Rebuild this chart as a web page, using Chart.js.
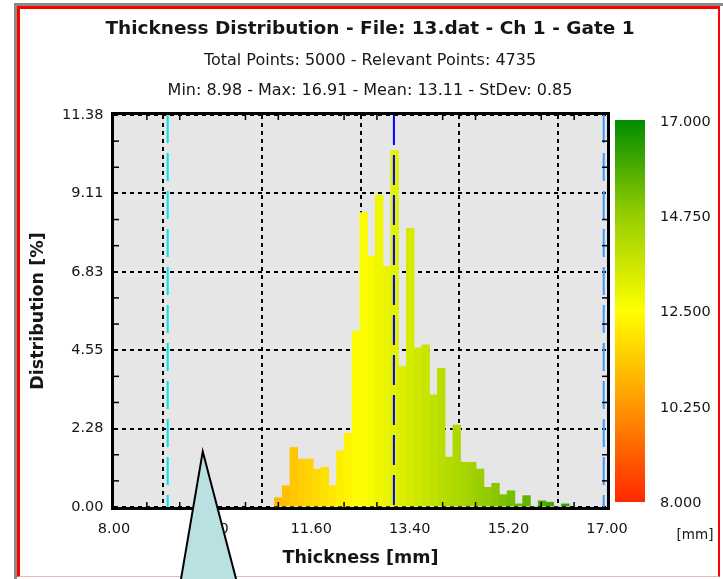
<!doctype html>
<html lang="en">
<head>
<meta charset="UTF-8">
<title>Thickness Distribution</title>
<script src="https://cdn.jsdelivr.net/npm/chart.js@4.4.1/dist/chart.umd.min.js"></script>
<style>
  html, body { margin: 0; padding: 0; background: #fff; }
  body { width: 723px; height: 579px; position: relative; overflow: hidden; }
  #outer { position: absolute; left: 14px; top: 3px; right: 0; bottom: -10px; border-left: 3px solid #8b8b83; border-top: 3px solid #8b8b83; }
  #frame { position: absolute; left: 17px; top: 6px; right: 3px; bottom: 2px; border: 3px solid #ff0000; border-right-width: 2px; border-bottom: 1px solid #f6b4b4; }
  canvas { position: absolute; left: 0; top: 0; }
</style>
</head>
<body>
<div id="outer"></div>
<div id="frame"></div>
<canvas id="chart" width="723" height="579"></canvas>
<script>
// histogram bins (centre of each bin, mm) and their share in %
const binCenters = [11.000, 11.142, 11.283, 11.425, 11.566, 11.708, 11.850, 11.991, 12.133, 12.274,
  12.416, 12.558, 12.699, 12.841, 12.982, 13.124, 13.266, 13.407, 13.549, 13.690,
  13.832, 13.974, 14.115, 14.257, 14.398, 14.540, 14.682, 14.823, 14.965, 15.106,
  15.248, 15.390, 15.531, 15.673, 15.814, 15.956, 16.098, 16.239];
const distribution = [0.27, 0.62, 1.73, 1.39, 1.39, 1.10, 1.15, 0.62, 1.63, 2.14,
  5.10, 8.55, 7.29, 9.06, 6.98, 10.35, 4.08, 8.09, 4.62, 4.71,
  3.26, 4.03, 1.45, 2.38, 1.30, 1.30, 1.10, 0.57, 0.69, 0.36,
  0.47, 0.09, 0.33, 0, 0.18, 0.14, 0, 0.09];

const xTicks = [8.0, 9.8, 11.6, 13.4, 15.2, 17.0];
const xTickLabels = ['8.00', '9.80', '11.60', '13.40', '15.20', '17.00'];
const yTicks = [0, 2.277, 4.554, 6.831, 9.108, 11.385];
const yTickLabels = ['0.00', '2.28', '4.55', '6.83', '9.11', '11.38'];
const colorTicks = [8, 10.25, 12.5, 14.75, 17];
const colorTickLabels = ['8.000', '10.250', '12.500', '14.750', '17.000'];

const gateStart = 8.98;
const meanValue = 13.11;
const gateEnd = 16.94;

const titleText = 'Thickness Distribution - File: 13.dat - Ch 1 - Gate 1';
const subtitleText = ['Total Points: 5000 - Relevant Points: 4735', 'Min: 8.98 - Max: 16.91 - Mean: 13.11 - StDev: 0.85'];

// colour map red -> yellow -> green
const colorStops = [[8, [255, 40, 0]], [10.25, [255, 150, 0]], [12.5, [255, 255, 0]], [14.75, [150, 205, 0]], [17, [0, 140, 0]]];
function rgb(c) { return `rgb(${c[0]},${c[1]},${c[2]})`; }
function colorAt(v) {
	for (let i = 0; i < colorStops.length - 1; i++) {
		const [v0, c0] = colorStops[i], [v1, c1] = colorStops[i + 1];
		if (v <= v1) {
			const t = Math.max(0, (v - v0) / (v1 - v0));
			return rgb(c0.map((c, k) => Math.round(c + (c1[k] - c) * t)));
		}
	}
	return rgb(colorStops[colorStops.length - 1][1]);
}

const FONT = "'DejaVu Sans', sans-serif";
const TEXT = '#161616';
Chart.defaults.font.family = FONT;
Chart.defaults.color = TEXT;

const plotDecor = {
	id: 'plotDecor',
	beforeDraw(chart) {
		const { ctx, chartArea: a } = chart;
		ctx.save();
		ctx.fillStyle = '#e6e6e6';
		ctx.fillRect(a.left, a.top, a.width, a.height);
		ctx.restore();
	},
	afterDatasetsDraw(chart) {
		const { ctx, chartArea: a, scales } = chart;
		const x = scales.x, y = scales.y, cb = scales.cb;
		const line = (x1, y1, x2, y2) => { ctx.beginPath(); ctx.moveTo(x1, y1); ctx.lineTo(x2, y2); ctx.stroke(); };
		ctx.save();
		// gate / mean markers
		const vline = (v, color, dash) => {
			const px = x.getPixelForValue(v);
			ctx.strokeStyle = color;
			ctx.lineWidth = 2;
			ctx.setLineDash(dash);
			line(px, a.top, px, a.bottom);
		};
		vline(gateStart, '#00e2ef', [28, 10]);
		vline(meanValue, '#0000ff', [30, 10]);
		vline(gateEnd, '#3a96ff', [28, 10]);
		ctx.setLineDash([]);

		// minor ticks, inside the frame
		ctx.strokeStyle = '#000';
		ctx.lineWidth = 1.5;
		for (let i = 0; i < xTicks.length - 1; i++) {
			for (let j = 1; j < 3; j++) {
				const px = x.getPixelForValue(xTicks[i] + (xTicks[i + 1] - xTicks[i]) * j / 3);
				line(px, a.bottom, px, a.bottom - 5);
				line(px, a.top, px, a.top + 5);
			}
		}
		for (let i = 0; i < yTicks.length - 1; i++) {
			for (let j = 1; j < 3; j++) {
				const py = y.getPixelForValue(yTicks[i] + (yTicks[i + 1] - yTicks[i]) * j / 3);
				line(a.left, py, a.left + 5, py);
				line(a.right, py, a.right - 5, py);
			}
		}

		// frame
		ctx.lineWidth = 3;
		ctx.strokeRect(a.left - 1.5, a.top - 1.5, a.width + 3, a.height + 3);

		// colour bar
		const top = cb.getPixelForValue(17) - 2, bottom = cb.getPixelForValue(8) - 1;
		const grad = ctx.createLinearGradient(0, bottom, 0, top);
		colorStops.forEach(([v, c]) => grad.addColorStop((v - 8) / 9, rgb(c)));
		ctx.fillStyle = grad;
		ctx.fillRect(a.right + 8, top, 30, bottom - top);

		ctx.fillStyle = TEXT;
		ctx.font = `13.5px ${FONT}`;
		ctx.textAlign = 'center';
		ctx.textBaseline = 'middle';
		ctx.fillText('[mm]', a.right + 88, cb.getPixelForValue(8) + 32);
		ctx.restore();
	},
	afterDraw(chart) {
		// callout pointer lying over the chart
		const { ctx, scales } = chart;
		const ax = scales.x.getPixelForValue(9.62), ay = scales.y.getPixelForValue(1.61);
		const h = chart.height - ay + 10;
		ctx.save();
		ctx.beginPath();
		ctx.moveTo(ax, ay);
		ctx.lineTo(ax - 0.1705 * h, ay + h);
		ctx.lineTo(ax + 0.2616 * h, ay + h);
		ctx.closePath();
		ctx.fillStyle = '#bae0e2';
		ctx.fill();
		ctx.strokeStyle = '#000';
		ctx.lineWidth = 2;
		ctx.stroke();
		ctx.restore();
	}
};

const ctx = document.getElementById('chart').getContext('2d');
const chart = new Chart(ctx, {
	type: 'bar',
	data: {
		datasets: [{
			data: binCenters.map((v, i) => ({ x: v, y: distribution[i] })),
			backgroundColor: binCenters.map(colorAt),
			borderWidth: 0,
			barPercentage: 1,
			categoryPercentage: 1,
			xAxisID: 'x',
			yAxisID: 'y',
		}],
	},
	options: {
		responsive: false,
		animation: false,
		devicePixelRatio: 1,
		layout: { padding: { left: 20, right: 3, top: 8, bottom: 0 } },
		plugins: {
			legend: { display: false },
			tooltip: { enabled: false },
			title: {
				display: true,
				text: titleText,
				color: TEXT,
				font: { size: 18.5, weight: 'bold' },
				padding: { top: 9.9, bottom: 0 },
			},
			subtitle: {
				display: true,
				text: subtitleText,
				color: TEXT,
				font: { size: 16, lineHeight: '30px' },
				padding: { top: 5.9, bottom: 9 },
			},
		},
		scales: {
			x: {
				type: 'linear',
				min: 8,
				max: 17,
				offset: false,
				afterBuildTicks: (s) => { s.ticks = xTicks.map((v) => ({ value: v })); },
				afterFit: (s) => { s.height = 72; },
				ticks: { callback: (v, i) => xTickLabels[i], padding: 14, font: { size: 14.5 }, maxRotation: 0, autoSkip: false },
				grid: { color: '#000', lineWidth: 2, drawTicks: false },
				border: { display: false, dash: [4, 4] },
				title: { display: true, text: 'Thickness [mm]', font: { size: 17.5, weight: 'bold' }, padding: { top: 0, bottom: 10.5 } },
			},
			y: {
				type: 'linear',
				position: 'left',
				min: 0,
				max: 11.385,
				afterBuildTicks: (s) => { s.ticks = yTicks.map((v) => ({ value: v })); },
				afterFit: (s) => { s.width = 94; },
				ticks: { callback: (v, i) => yTickLabels[i], padding: 10.5, font: { size: 14.5 }, autoSkip: false },
				grid: { color: '#000', lineWidth: 2, drawTicks: false },
				border: { display: false, dash: [4, 4] },
				title: { display: true, text: 'Distribution [%]', font: { size: 17.5, weight: 'bold' }, padding: { top: 8.4, bottom: 0 } },
			},
			cb: {
				type: 'linear',
				position: 'right',
				min: 7.906,
				max: 17.165,
				afterBuildTicks: (s) => { s.ticks = colorTicks.map((v) => ({ value: v })); },
				afterFit: (s) => { s.width = 113; },
				ticks: { callback: (v, i) => colorTickLabels[i], padding: 53, font: { size: 14.5 }, autoSkip: false },
				grid: { display: false, drawTicks: false },
				border: { display: false },
			},
		},
	},
	plugins: [plotDecor],
});
</script>
</body>
</html>
